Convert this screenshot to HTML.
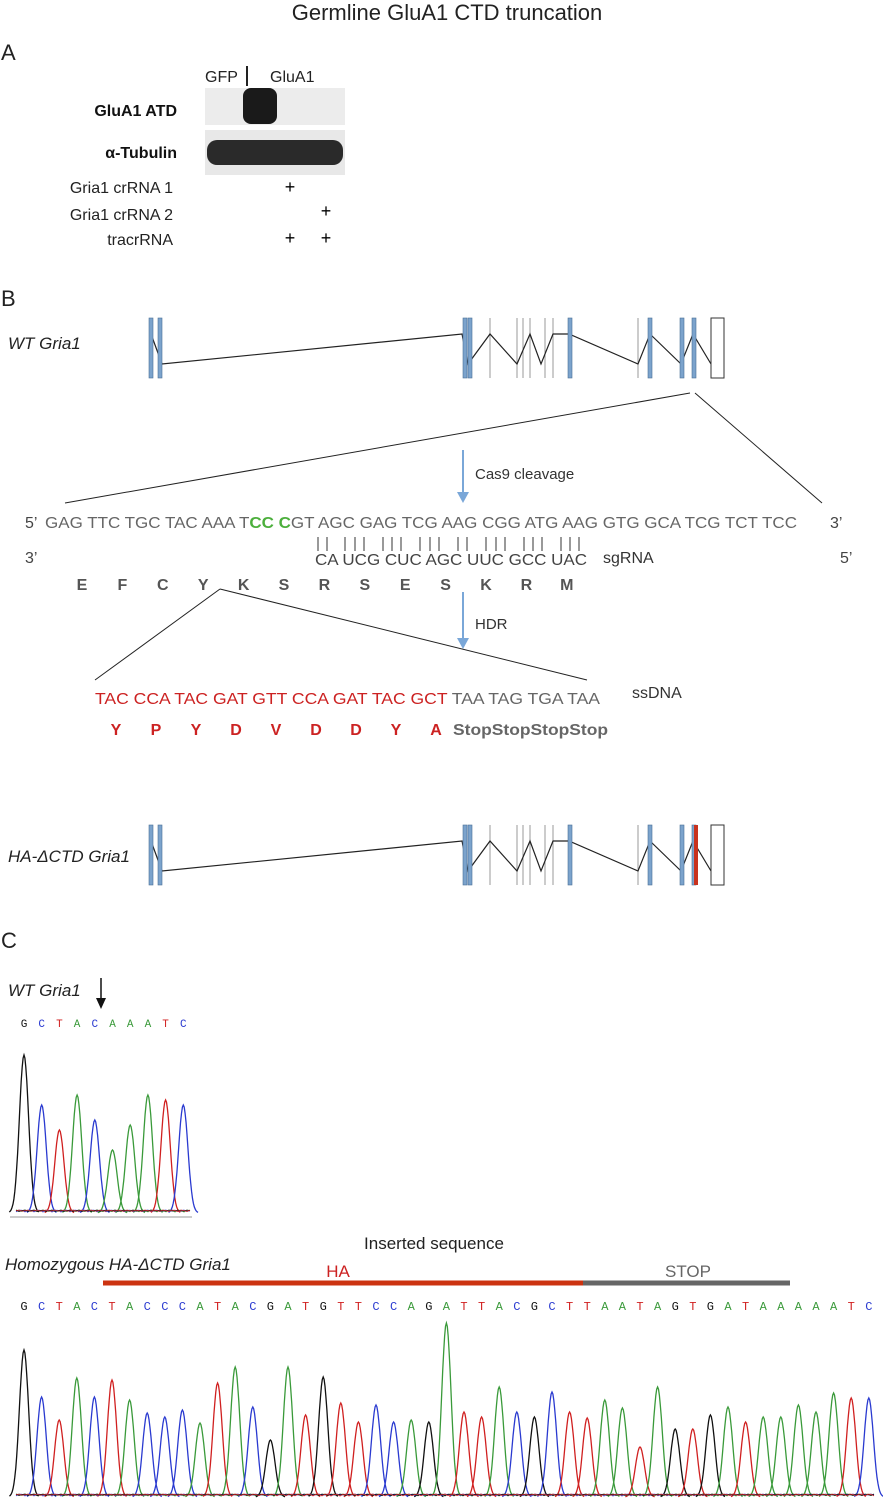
<!DOCTYPE html>
<html><head><meta charset="utf-8"><style>
html,body{margin:0;padding:0;background:#fff;}
svg{display:block;font-family:"Liberation Sans",sans-serif;}
</style></head><body>
<svg id="s" width="883" height="1500" viewBox="0 0 883 1500" xmlns="http://www.w3.org/2000/svg">
<text x="447" y="20" font-size="22" text-anchor="middle" fill="#222">Germline GluA1 CTD truncation</text>
<text x="1" y="60" font-size="22" fill="#222">A</text>
<text x="205" y="82" font-size="16" fill="#222">GFP</text>
<line x1="247" y1="66" x2="247" y2="86" stroke="#222" stroke-width="2"/>
<text x="270" y="82" font-size="16" fill="#222">GluA1</text>
<rect x="205" y="88" width="140" height="37" fill="#ececec"/>
<rect x="243" y="88" width="34" height="36" rx="8" fill="#1a1a1a"/>
<rect x="205" y="130" width="140" height="45" fill="#e8e8e8"/>
<rect x="207" y="140" width="136" height="25" rx="10" fill="#2a2a2a"/>
<text x="177" y="116" font-size="16" font-weight="bold" text-anchor="end" fill="#111">GluA1 ATD</text>
<text x="177" y="158" font-size="16" font-weight="bold" text-anchor="end" fill="#111">α-Tubulin</text>
<text x="173" y="193" font-size="16" text-anchor="end" fill="#222">Gria1 crRNA 1</text>
<text x="173" y="220" font-size="16" text-anchor="end" fill="#222">Gria1 crRNA 2</text>
<text x="173" y="245" font-size="16" text-anchor="end" fill="#222">tracrRNA</text>
<text x="290" y="193" font-size="18" text-anchor="middle">+</text>
<text x="326" y="217" font-size="18" text-anchor="middle">+</text>
<text x="290" y="244" font-size="18" text-anchor="middle">+</text>
<text x="326" y="244" font-size="18" text-anchor="middle">+</text>
<text x="1" y="306" font-size="22" fill="#222">B</text>
<text x="8" y="349" font-size="17" font-style="italic" fill="#222">WT Gria1</text>
<text x="8" y="862" font-size="17" font-style="italic" fill="#222">HA-ΔCTD Gria1</text>
<g id="g1"></g><g id="g2"></g>
<line x1="690" y1="393" x2="65" y2="503" stroke="#222"/>
<line x1="695" y1="393" x2="822" y2="503" stroke="#222"/>
<line x1="463" y1="450" x2="463" y2="495" stroke="#7aa7d8" stroke-width="2"/>
<polygon points="457,492 469,492 463,503" fill="#7aa7d8"/>
<text x="475" y="479" font-size="15" fill="#333">Cas9 cleavage</text>
<text x="25" y="528" font-size="16" fill="#444">5’</text>
<text x="45" y="528" font-size="16" fill="#666" textLength="752" lengthAdjust="spacingAndGlyphs">GAG TTC TGC TAC AAA T<tspan fill="#4caf3c" font-weight="bold">CC C</tspan>GT AGC GAG TCG AAG CGG ATG AAG GTG GCA TCG TCT TCC</text>
<text x="830" y="528" font-size="16" fill="#444">3’</text>
<g id="pipes" stroke="#333"></g>
<text x="25" y="563" font-size="16" fill="#444">3’</text>
<text x="315" y="565" font-size="16" fill="#444" textLength="272" lengthAdjust="spacingAndGlyphs">CA UCG CUC AGC UUC GCC UAC</text>
<text x="603" y="563" font-size="16" fill="#333">sgRNA</text>
<text x="840" y="563" font-size="16" fill="#444">5’</text>
<g id="aa1" font-size="16" font-weight="bold" fill="#555" text-anchor="middle"></g>
<line x1="463" y1="592" x2="463" y2="640" stroke="#7aa7d8" stroke-width="2"/>
<polygon points="457,638 469,638 463,649" fill="#7aa7d8"/>
<text x="475" y="629" font-size="15" fill="#333">HDR</text>
<line x1="220" y1="589" x2="95" y2="680" stroke="#222"/>
<line x1="220" y1="589" x2="587" y2="680" stroke="#222"/>
<text x="95" y="704" font-size="16" fill="#666" textLength="505" lengthAdjust="spacingAndGlyphs"><tspan fill="#cc2222">TAC CCA TAC GAT GTT CCA GAT TAC GCT</tspan> TAA TAG TGA TAA</text>
<text x="632" y="698" font-size="16" fill="#333">ssDNA</text>
<g id="aa2" font-size="16" font-weight="bold" fill="#cc2222" text-anchor="middle"></g>
<text x="453" y="735" font-size="16" font-weight="bold" fill="#666" textLength="155" lengthAdjust="spacingAndGlyphs">StopStopStopStop</text>
<text x="1" y="948" font-size="22" fill="#222">C</text>
<text x="8" y="996" font-size="17" font-style="italic" fill="#222">WT Gria1</text>
<line x1="101" y1="978" x2="101" y2="1000" stroke="#111" stroke-width="1.5"/>
<polygon points="96,998 106,998 101,1009" fill="#111"/>
<g id="c1"></g>
<line x1="10" y1="1217" x2="192" y2="1217" stroke="#999"/>
<text x="434" y="1249" font-size="17" text-anchor="middle" fill="#222">Inserted sequence</text>
<text x="5" y="1270" font-size="17" font-style="italic" fill="#222">Homozygous HA-ΔCTD Gria1</text>
<text x="338" y="1277" font-size="17" text-anchor="middle" fill="#cc2222">HA</text>
<text x="688" y="1277" font-size="17" text-anchor="middle" fill="#666">STOP</text>
<line x1="103" y1="1283" x2="583" y2="1283" stroke="#cc3311" stroke-width="5"/>
<line x1="583" y1="1283" x2="790" y2="1283" stroke="#666" stroke-width="5"/>
<g id="c2"></g>
</svg>
<script>
var NS="http://www.w3.org/2000/svg";
function el(p,t,a,txt){var e=document.createElementNS(NS,t);for(var k in a)e.setAttribute(k,a[k]);if(txt!=null)e.textContent=txt;document.getElementById(p).appendChild(e);return e;}
function gene(id,y0,red){
 var top=y0,bot=y0+60,hi=y0+16,lo=y0+46;
 [490,517,523,530,545,553,638].forEach(function(x){el(id,"line",{x1:x,y1:top,x2:x,y2:bot,stroke:"#999","stroke-width":1});});
 var pts=[[151,hi],[162,lo],[462,hi],[468,lo],[490,hi],[517,lo],[530,hi],[541,lo],[553,hi],[569,hi],[638,lo],[650,hi],[681,lo],[693,hi],[711,lo]];
 el(id,"polyline",{points:pts.map(function(p){return p.join(",")}).join(" "),fill:"none",stroke:"#222","stroke-width":1.2});
 [149,158,463,468,568,648,680,692].forEach(function(x){el(id,"rect",{x:x,y:top,width:4,height:60,fill:"#7ba3cc",stroke:"#4a6f96","stroke-width":0.6});});
 el(id,"rect",{x:711,y:top,width:13,height:60,fill:"#fff",stroke:"#333","stroke-width":1});
 if(red)el(id,"rect",{x:694,y:top,width:4,height:60,fill:"#c8321e"});
}
gene("g1",318,false);gene("g2",825,true);
var px=[318,327,345,355,364,383,392,401,420,430,439,458,467,486,496,505,524,533,542,561,570,579];
px.forEach(function(x){el("pipes","line",{x1:x,y1:537,x2:x,y2:551});});
"EFCYKSRSESKRM".split("").forEach(function(c,i){el("aa1","text",{x:82+i*40.4,y:590},c);});
"YPYDVDDYA".split("").forEach(function(c,i){el("aa2","text",{x:116+i*40,y:735},c);});
var col={A:"#3a9a3a",C:"#2a3ad0",G:"#111",T:"#d02020"};
function chrom(id,seq,x0,dx,base,tops,ty,fs){
 seq.split("").forEach(function(c,i){
  var x=x0+i*dx;
  el(id,"text",{x:x,y:ty,"font-size":fs,"font-family":"Liberation Mono, monospace","text-anchor":"middle",fill:col[c]},c);
  var h=base-tops[i],s=dx*0.26,d="";
  for(var t=-3.2;t<=3.21;t+=0.2){var xx=x+t*s,yy=base-h*Math.exp(-t*t/2);d+=(d?"L":"M")+xx.toFixed(1)+","+yy.toFixed(1);}
  el(id,"path",{d:d,fill:"none",stroke:col[c],"stroke-width":1.3});
 });
 ["A","C","G","T"].forEach(function(c,k){var d="";var n=seq.length;for(var x=x0-8;x<=x0+(n-1)*dx+8;x+=3){var yy=base-1-2*Math.abs(Math.sin(x*0.7+k*1.3));d+=(d?"L":"M")+x+","+yy.toFixed(1);}el(id,"path",{d:d,fill:"none",stroke:col[c],"stroke-width":0.8});});
}
chrom("c1","GCTACAAATC",24,17.7,1213,[1055,1105,1130,1095,1120,1150,1125,1095,1100,1105],1027,11);
chrom("c2","GCTACTACCCATACGATGTTCCAGATTACGCTTAATAGTGATAAAAATC",24,17.6,1497,
[1350,1397,1420,1378,1397,1380,1400,1413,1417,1410,1423,1383,1367,1407,1440,1367,1415,1377,1403,1422,1405,1422,1420,1422,1323,1412,1417,1387,1412,1417,1392,1412,1418,1400,1408,1447,1387,1429,1429,1415,1407,1422,1417,1417,1405,1412,1393,1398,1398],1310,12);
</script>
</body></html>
